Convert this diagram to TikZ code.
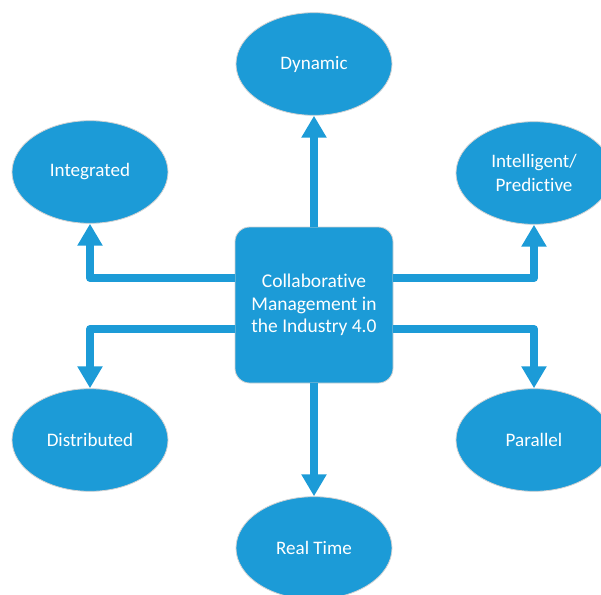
\documentclass[tikz,border=0pt]{standalone}
\usepackage{fontspec}
\setmainfont{Carlito}[Ligatures=CommonOff]
\usetikzlibrary{shapes.geometric,arrows.meta}
\definecolor{cblue}{RGB}{28,155,215}
\tikzset{
  oval/.style={ellipse, fill=cblue, draw=gray!35, line width=0.6pt, minimum width=117pt, minimum height=77pt, inner sep=0pt, text=white, align=center, font=\fontsize{14.3}{18}\selectfont},
  centerbox/.style={rectangle, rounded corners=11pt, fill=cblue, draw=gray!35, line width=0.6pt, minimum width=118.5pt, minimum height=117pt, inner sep=0pt, text=white, align=center, font=\fontsize{14.6}{17}\selectfont},
  conn/.style={draw=cblue, line width=6pt, line join=round, -{Triangle[width=18pt,length=16.5pt]}}
}
\begin{document}
\begin{tikzpicture}[x=0.75pt,y=-0.75pt]
\useasboundingbox (0,0) rectangle (601,594);
\clip (0,0) rectangle (601,594);
\node[oval] (dyn) at (314,64) {Dynamic};
\node[oval] (integ) at (90,172) {Integrated};
\node[oval] (intel) at (534,173) {Intelligent/\\Predictive};
\node[oval] (dist) at (90,440) {Distributed};
\node[oval] (par) at (534,440) {Parallel};
\node[oval] (rt) at (314,548) {Real Time};
\node[centerbox] (box) at (314,305) {Collaborative\\Management in\\the Industry 4.0};
\coordinate (ya) at (0,278);
\coordinate (yb) at (0,329);
\draw[conn] (box.north) -- (dyn.south);
\draw[conn] (box.south) -- (rt.north);
\draw[conn] (box.west |- ya) -| (integ.south);
\draw[conn] (box.east |- ya) -| (intel.south);
\draw[conn] (box.west |- yb) -| (dist.north);
\draw[conn] (box.east |- yb) -| (par.north);
\end{tikzpicture}
\end{document}
